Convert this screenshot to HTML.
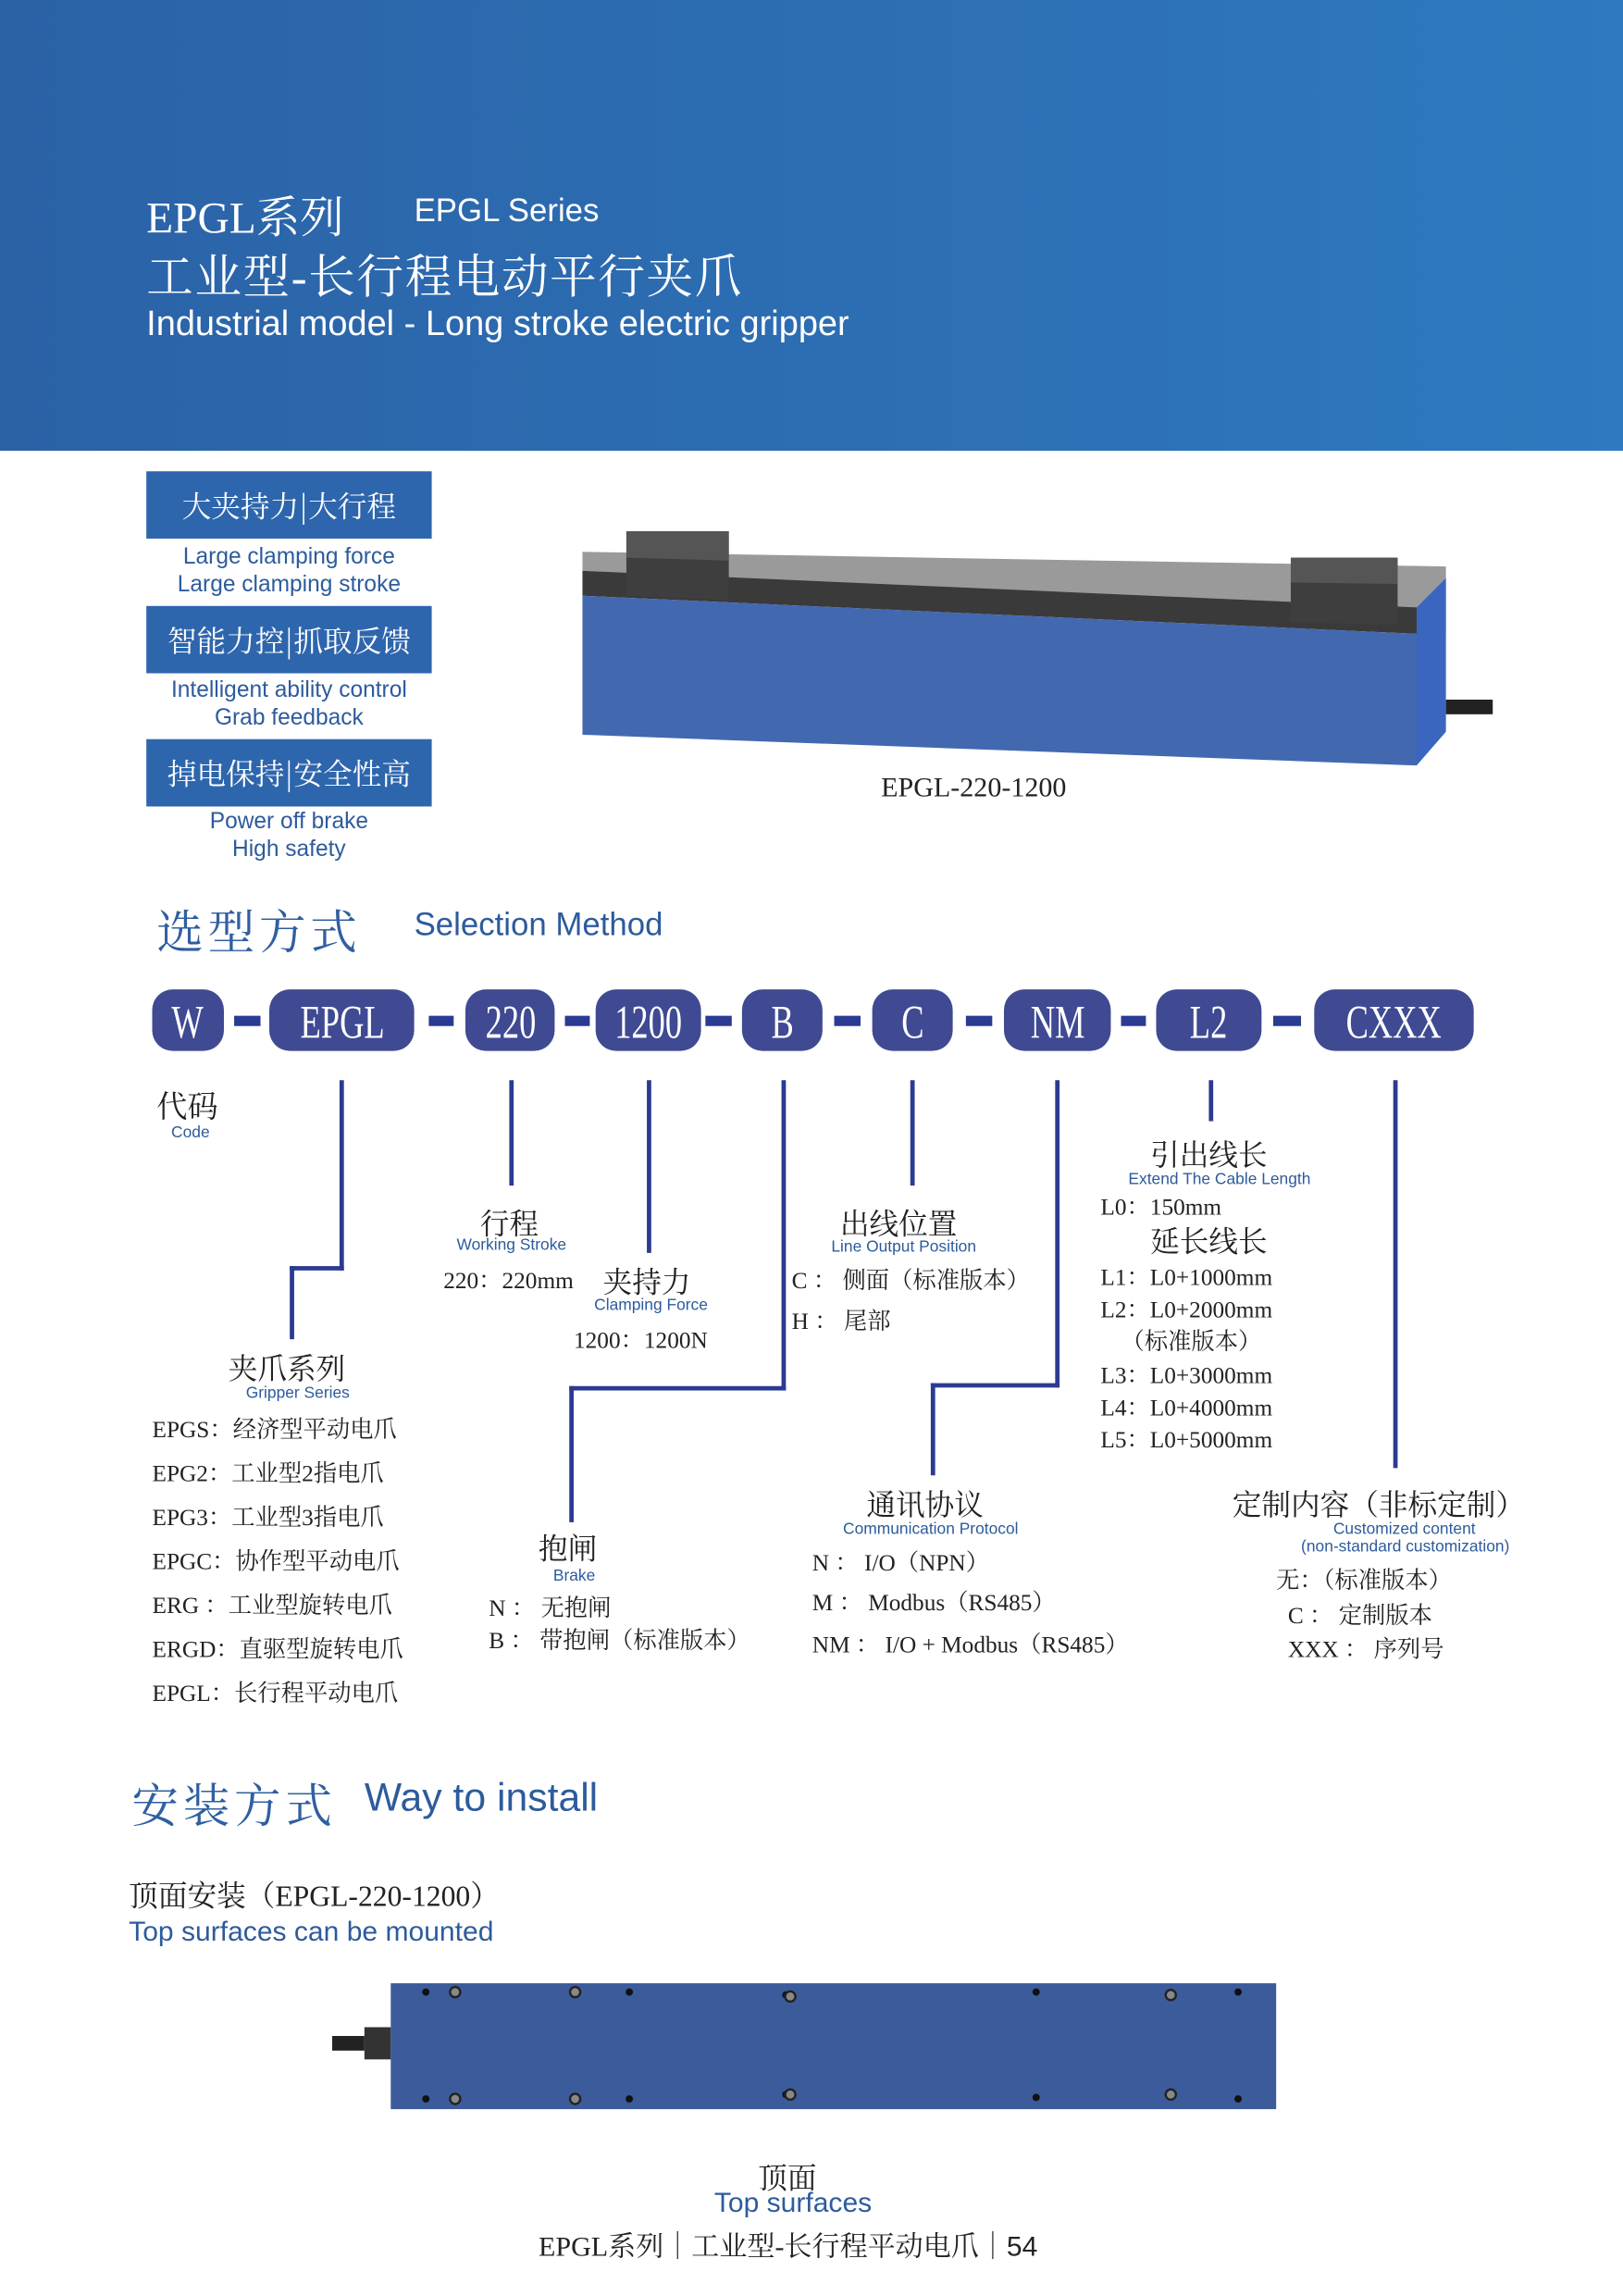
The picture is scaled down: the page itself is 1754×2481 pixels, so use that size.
<!DOCTYPE html>
<html><head><meta charset="utf-8"><style>
html,body{margin:0;padding:0;background:#fff;}
#w{width:1109px;height:1568px;position:relative;transform:scale(1.58161);transform-origin:0 0;overflow:hidden;}
.a{position:absolute;white-space:nowrap;}
.s{font-family:"Liberation Serif","Noto Serif CJK SC",serif;}
.n{font-family:"Liberation Sans","Noto Sans CJK SC",sans-serif;}
.fb{position:absolute;left:100px;width:195px;height:46px;background:#2e66ad;color:#fff;font-size:20px;text-align:center;line-height:46px;font-family:"Noto Serif CJK SC",serif;}
.en{position:absolute;left:100px;width:195px;text-align:center;font-size:15.5px;line-height:19px;color:#2d5b9c;font-family:"Liberation Sans","Noto Sans CJK SC",sans-serif;}
.p{position:absolute;top:676px;height:42px;background:#3f4a93;border-radius:14px;color:#fff;font-family:"Liberation Serif",serif;font-size:32px;line-height:44px;text-align:center;}
.p span{display:inline-block;transform:scaleX(0.72);}
.d{position:absolute;top:694px;height:7px;background:#2b3a92;}
.v{position:absolute;width:3px;background:#2b3a92;}
.h{position:absolute;height:3px;background:#2b3a92;}
.t{font-family:"Liberation Serif","Noto Serif CJK SC",serif;font-size:16px;color:#222;}
.sm{font-family:"Liberation Sans",sans-serif;font-size:11px;color:#2d5b9c;}
</style></head><body><div id="w">
<div class="a" style="left:0;top:0;width:1109px;height:308px;background:linear-gradient(90deg,#2b62a6,#2e79c0);"></div>
<div class="a s" style="left:100px;top:124px;font-size:30px;color:#fff;">EPGL系列</div>
<div class="a n" style="left:283px;top:131px;font-size:22px;color:#fff;">EPGL Series</div>
<div class="a s" style="left:100px;top:164px;font-size:32px;color:#fff;letter-spacing:1px;">工业型-长行程电动平行夹爪</div>
<div class="a n" style="left:100px;top:208px;font-size:24px;color:#fff;">Industrial model - Long stroke electric gripper</div>

<div class="fb" style="top:322px;">大夹持力|大行程</div>
<div class="en" style="top:371px;">Large clamping force<br>Large clamping stroke</div>
<div class="fb" style="top:414px;">智能力控|抓取反馈</div>
<div class="en" style="top:462px;">Intelligent ability control<br>Grab feedback</div>
<div class="fb" style="top:505px;">掉电保持|安全性高</div>
<div class="en" style="top:552px;">Power off brake<br>High safety</div>

<svg class="a" style="left:390px;top:355px;" width="640" height="175">
<polygon points="8,22 598,32 598,78 8,50" fill="#9a9a9a"/>
<polygon points="8,35 578,60 578,78 8,52" fill="#3a3a3a"/>
<polygon points="8,52 578,78 578,168 8,147" fill="#4268b0"/>
<polygon points="578,60 598,40 598,145 578,168" fill="#3a66c0"/>
<polygon points="38,8 108,8 108,55 38,52" fill="#3e3e3e"/>
<polygon points="38,8 108,8 108,28 38,26" fill="#555"/>
<polygon points="492,26 565,26 565,72 492,70" fill="#3e3e3e"/>
<polygon points="492,26 565,26 565,44 492,43" fill="#555"/>
<rect x="598" y="123" width="32" height="10" fill="#222"/>
</svg>
<div class="a s" style="left:602px;top:528px;font-size:19px;color:#222;">EPGL-220-1200</div>

<div class="a s" style="left:107px;top:612px;font-size:32px;color:#2f5fa0;letter-spacing:3px;">选型方式</div>
<div class="a n" style="left:283px;top:619px;font-size:22px;color:#2d5b9c;">Selection Method</div>

<div class="p" style="left:104px;width:49px;"><span>W</span></div>
<div class="d" style="left:160px;width:18px;"></div>
<div class="p" style="left:184px;width:99px;"><span>EPGL</span></div>
<div class="d" style="left:293px;width:17px;"></div>
<div class="p" style="left:318px;width:61px;"><span>220</span></div>
<div class="d" style="left:386px;width:17px;"></div>
<div class="p" style="left:407px;width:72px;"><span>1200</span></div>
<div class="d" style="left:482px;width:18px;"></div>
<div class="p" style="left:507px;width:55px;"><span>B</span></div>
<div class="d" style="left:570px;width:18px;"></div>
<div class="p" style="left:596px;width:55px;"><span>C</span></div>
<div class="d" style="left:660px;width:18px;"></div>
<div class="p" style="left:686px;width:73px;"><span>NM</span></div>
<div class="d" style="left:766px;width:17px;"></div>
<div class="p" style="left:790px;width:72px;"><span>L2</span></div>
<div class="d" style="left:870px;width:19px;"></div>
<div class="p" style="left:898px;width:109px;"><span>CXXX</span></div>

<div class="v" style="left:232px;top:738px;height:130px;"></div>
<div class="h" style="left:198px;top:865px;width:37px;"></div>
<div class="v" style="left:198px;top:865px;height:50px;"></div>
<div class="v" style="left:348px;top:738px;height:72px;"></div>
<div class="v" style="left:442px;top:738px;height:118px;"></div>
<div class="v" style="left:534px;top:738px;height:212px;"></div>
<div class="h" style="left:389px;top:947px;width:148px;"></div>
<div class="v" style="left:389px;top:947px;height:93px;"></div>
<div class="v" style="left:622px;top:738px;height:72px;"></div>
<div class="v" style="left:721px;top:738px;height:210px;"></div>
<div class="h" style="left:636px;top:945px;width:88px;"></div>
<div class="v" style="left:636px;top:945px;height:63px;"></div>
<div class="v" style="left:826px;top:738px;height:28px;"></div>
<div class="v" style="left:952px;top:738px;height:265px;"></div>

<div class="a s" style="left:107px;top:740px;font-size:21px;color:#222;">代码</div>
<div class="a sm" style="left:117px;top:768px;">Code</div>

<div class="a s" style="left:328px;top:820px;font-size:20px;color:#222;">行程</div>
<div class="a sm" style="left:312px;top:845px;">Working Stroke</div>
<div class="a t" style="left:303px;top:862px;">220：220mm</div>
<div class="a s" style="left:412px;top:860px;font-size:20px;color:#222;">夹持力</div>
<div class="a sm" style="left:406px;top:886px;">Clamping Force</div>
<div class="a t" style="left:392px;top:903px;">1200：1200N</div>

<div class="a s" style="left:574px;top:820px;font-size:20px;color:#222;">出线位置</div>
<div class="a sm" style="left:568px;top:846px;">Line Output Position</div>
<div class="a t" style="left:541px;top:862px;">C ： 侧面（标准版本）</div>
<div class="a t" style="left:541px;top:890px;">H ： 尾部</div>

<div class="a s" style="left:786px;top:773px;font-size:20px;color:#222;">引出线长</div>
<div class="a sm" style="left:771px;top:800px;">Extend The Cable Length</div>
<div class="a t" style="left:752px;top:812px;">L0：150mm</div>
<div class="a s" style="left:786px;top:832px;font-size:20px;color:#222;">延长线长</div>
<div class="a t" style="left:752px;top:860px;">L1：L0+1000mm</div>
<div class="a t" style="left:752px;top:882px;">L2：L0+2000mm</div>
<div class="a t" style="left:766px;top:904px;">（标准版本）</div>
<div class="a t" style="left:752px;top:927px;">L3：L0+3000mm</div>
<div class="a t" style="left:752px;top:949px;">L4：L0+4000mm</div>
<div class="a t" style="left:752px;top:971px;">L5：L0+5000mm</div>

<div class="a s" style="left:156px;top:919px;font-size:20px;color:#222;">夹爪系列</div>
<div class="a sm" style="left:168px;top:946px;">Gripper Series</div>
<div class="a t" style="left:104px;top:963px;line-height:30px;">EPGS：经济型平动电爪<br>EPG2：工业型2指电爪<br>EPG3：工业型3指电爪<br>EPGC：协作型平动电爪<br>ERG ：工业型旋转电爪<br>ERGD：直驱型旋转电爪<br>EPGL：长行程平动电爪</div>

<div class="a s" style="left:368px;top:1042px;font-size:20px;color:#222;">抱闸</div>
<div class="a sm" style="left:378px;top:1071px;">Brake</div>
<div class="a t" style="left:334px;top:1086px;">N ： 无抱闸</div>
<div class="a t" style="left:334px;top:1108px;">B ： 带抱闸（标准版本）</div>

<div class="a s" style="left:592px;top:1012px;font-size:20px;color:#222;">通讯协议</div>
<div class="a sm" style="left:576px;top:1039px;">Communication Protocol</div>
<div class="a t" style="left:555px;top:1055px;">N ： I/O（NPN）</div>
<div class="a t" style="left:555px;top:1082px;">M ： Modbus（RS485）</div>
<div class="a t" style="left:555px;top:1111px;">NM ： I/O + Modbus（RS485）</div>

<div class="a s" style="left:842px;top:1012px;font-size:20px;color:#222;">定制内容（非标定制）</div>
<div class="a sm" style="left:911px;top:1039px;">Customized content</div>
<div class="a sm" style="left:889px;top:1051px;">(non-standard customization)</div>
<div class="a t" style="left:872px;top:1067px;">无：（标准版本）</div>
<div class="a t" style="left:880px;top:1091px;">C ： 定制版本</div>
<div class="a t" style="left:880px;top:1114px;">XXX ： 序列号</div>

<div class="a s" style="left:90px;top:1209px;font-size:32px;color:#2f5fa0;letter-spacing:3px;">安装方式</div>
<div class="a n" style="left:249px;top:1213px;font-size:27px;color:#2d5b9c;">Way to install</div>
<div class="a s" style="left:88px;top:1279px;font-size:20px;color:#222;">顶面安装（EPGL-220-1200）</div>
<div class="a n" style="left:88px;top:1310px;font-size:19px;color:#2d5b9c;">Top surfaces can be mounted</div>

<svg class="a" style="left:225px;top:1353px;" width="650" height="92">
<rect x="42" y="2" width="605" height="86" fill="#3b5b9b"/>
<rect x="2" y="38" width="22" height="10" fill="#222"/>
<rect x="24" y="32" width="18" height="22" fill="#333"/>
<g fill="#111"><circle cx="66" cy="8" r="2.5"/><circle cx="205" cy="8" r="2.5"/><circle cx="312" cy="10" r="2.5"/><circle cx="483" cy="8" r="2.5"/><circle cx="621" cy="8" r="2.5"/>
<circle cx="66" cy="81" r="2.5"/><circle cx="205" cy="81" r="2.5"/><circle cx="312" cy="78" r="2.5"/><circle cx="483" cy="80" r="2.5"/><circle cx="621" cy="81" r="2.5"/></g>
<g fill="#888" stroke="#222" stroke-width="1.5"><circle cx="86" cy="8" r="3.5"/><circle cx="168" cy="8" r="3.5"/><circle cx="315" cy="11" r="3.5" /><circle cx="575" cy="10" r="3.5"/>
<circle cx="86" cy="81" r="3.5"/><circle cx="168" cy="81" r="3.5"/><circle cx="315" cy="78" r="3.5"/><circle cx="575" cy="78" r="3.5"/></g>
</svg>

<div class="a s" style="left:518px;top:1472px;font-size:20px;color:#222;">顶面</div>
<div class="a n" style="left:488px;top:1495px;font-size:19px;color:#2d5b9c;">Top surfaces</div>
<div class="a s" style="left:368px;top:1520px;font-size:19px;color:#222;">EPGL系列｜工业型-长行程平动电爪｜<span style="font-family:'Liberation Sans',sans-serif;">54</span></div>
</div></body></html>
